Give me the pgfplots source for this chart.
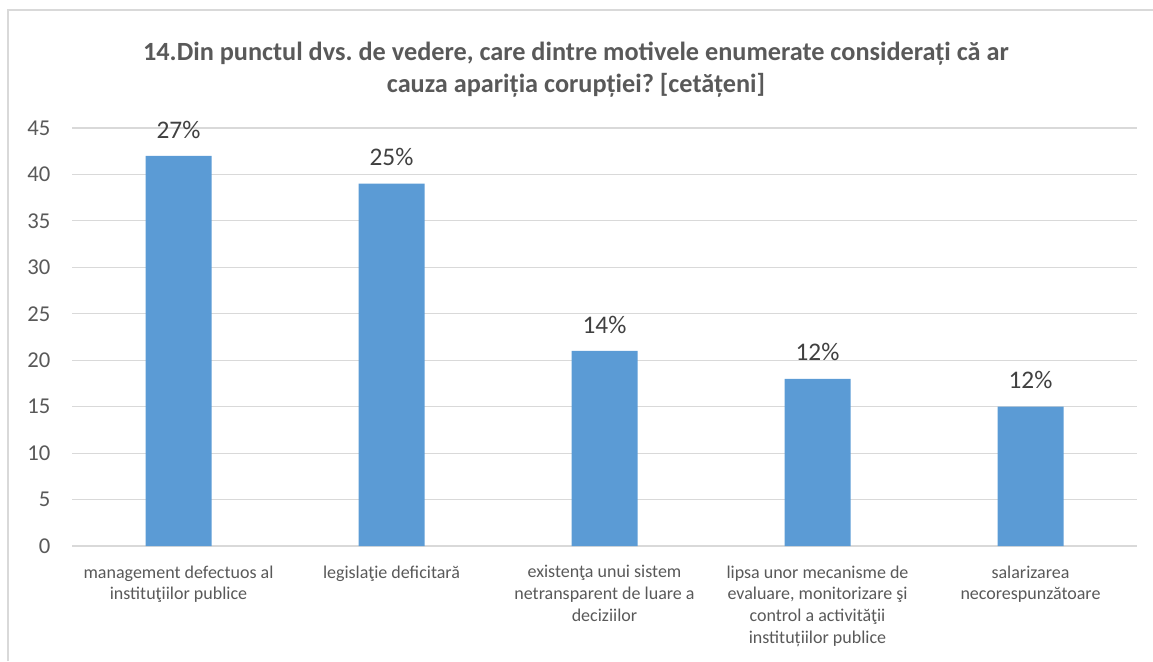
\documentclass[border=0pt]{standalone}
\usepackage{fontspec}
\setmainfont{Carlito}
\usepackage{pgfplots}
\pgfplotsset{compat=1.18}
\definecolor{barblue}{HTML}{5B9BD5}
\definecolor{txtgrey}{HTML}{595959}
\definecolor{lblgrey}{HTML}{404040}
\definecolor{gridgrey}{HTML}{D9D9D9}
\frenchspacing

\begin{document}
\begin{tikzpicture}
\path[use as bounding box] (0,0) rectangle (864.75pt,495.75pt);
\draw[gridgrey, line width=1.5pt] (6pt,0pt) -- (6pt,488.25pt) -- (866pt,488.25pt);

\node[font=\fontsize{19.7}{24.5}\selectfont\bfseries, text=txtgrey, align=center]
  at (432pt,443.5pt) {14.Din punctul dvs. de vedere, care dintre motivele enumerate considerați că ar\\
  cauza apariția corupției? [cetățeni]};

\begin{axis}[
    at={(54pt,86.25pt)}, anchor=south west,
    scale only axis,
    width=798.75pt, height=313.5pt,
    xmin=-0.5, xmax=4.5, ymin=0, ymax=45,
    ytick={0,5,...,45},
    xtick=data,
    xticklabels={
      {management defectuos al\\instituţiilor publice},
      {legislaţie deficitară},
      {existenţa unui sistem\\netransparent de luare a\\deciziilor},
      {lipsa unor mecanisme de\\evaluare, monitorizare şi\\control a activităţii\\instituțiilor publice},
      {salarizarea\\necorespunzătoare}},
    axis lines=left,
    axis line style={-},
    x axis line style={draw=gridgrey, line width=1pt},
    y axis line style={draw=none},
    major tick length=0pt,
    ymajorgrids, grid style={gridgrey, line width=0.8pt},
    /pgf/number format/assume math mode=true,
    yticklabel style={font=\fontsize{17}{20}\selectfont, text=txtgrey, anchor=east, inner sep=0pt, xshift=-16pt},
    xticklabel style={font=\fontsize{13.5}{16.3}\selectfont, text=txtgrey, anchor=north, inner sep=0pt,
      align=center, yshift=-14.5pt},
    ybar, bar width=49.5pt,
    point meta=explicit symbolic,
    nodes near coords,
    nodes near coords style={font=\fontsize{19}{22}\selectfont, text=lblgrey, anchor=south, inner sep=0pt, yshift=13pt},
    clip=false,
]
\addplot[fill=barblue, draw=none] coordinates {
    (0,42) [27\%]
    (1,39) [25\%]
    (2,21) [14\%]
    (3,18) [12\%]
    (4,15) [12\%]
};
\end{axis}
\end{tikzpicture}
\end{document}
